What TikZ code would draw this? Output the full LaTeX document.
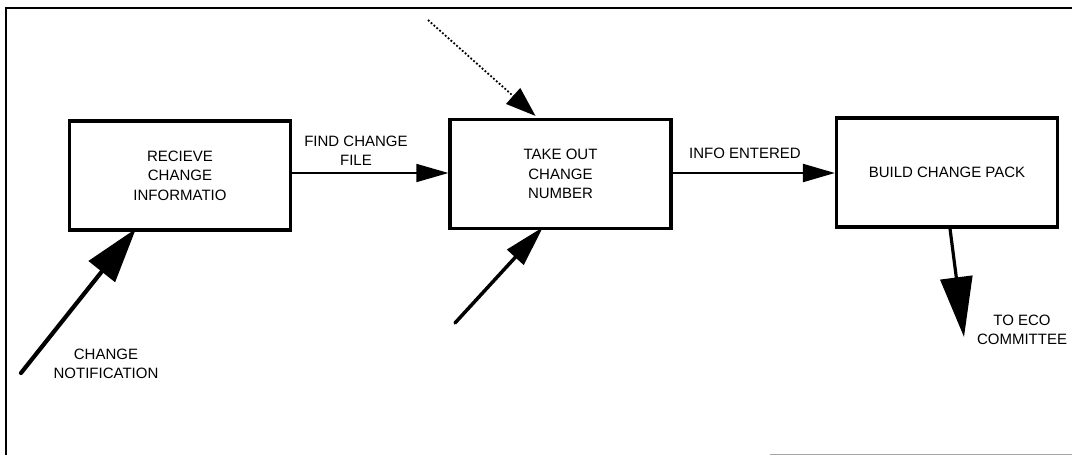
\documentclass[tikz,border=0pt]{standalone}
\usepackage{fontspec}
\setmainfont{Liberation Sans}
\usetikzlibrary{arrows.meta,calc}
\begin{document}
\begin{tikzpicture}[x=1pt,y=-1pt,
  every node/.style={font=\fontsize{15}{19.5}\selectfont, inner sep=0pt, align=center},
  procbox/.style={draw, line width=3.2pt, minimum width=221pt, minimum height=109pt},
  flow/.style={-{Triangle[length=32pt,width=18pt]}},
  bigin/.style={line width=4.2pt, line cap=round, -{Triangle[length=55pt,width=33pt]}},
  midin/.style={line width=3.5pt, line cap=round, -{Triangle[length=41pt,width=22pt]}},
  dotin/.style={line width=1.8pt, dotted, -{Triangle[length=30pt,width=21pt]}}]
\useasboundingbox (0,0) rectangle (1072,456);
% frame
\draw[line width=1.5pt] (6,455) -- (6,8) -- (1072,8);
\draw[line width=1pt, black!35] (770,454) -- (1072,454);
% boxes
\node[procbox] (b1) at (180,175.5) {RECIEVE\\CHANGE\\INFORMATIO};
\node[procbox] (b2) at (560.5,174) {TAKE OUT\\CHANGE\\NUMBER};
\node[procbox] (b3) at (947,172.5) {BUILD CHANGE PACK};
% labels
\node (lfind) at (356,151) {FIND CHANGE\\FILE};
\node (linfo) at (745,153) {INFO ENTERED};
\node (lnote) at (106,364) {CHANGE\\NOTIFICATION};
\node (leco) at (1022,330) {TO ECO\\COMMITTEE};
% free ends
\coordinate (s1) at (21,373);
\coordinate (s2) at (455,323);
\coordinate (s3) at (428,20);
\coordinate (e5) at (964,337);
% connectors
\draw[flow, line width=1.6pt] (b1.east |- 0,173) -- (b2.west |- 0,173);
\draw[flow, line width=2.2pt] (b2.east |- 0,173) -- (b3.west |- 0,173);
\draw[bigin] (s1) -- ([xshift=-44pt,yshift=3pt]b1.south);
\draw[midin] (s2) -- ([xshift=-17.5pt,yshift=3pt]b2.south);
\draw[dotin] (s3) -- ([xshift=-25pt,yshift=2pt]b2.north);
\draw[line width=3.2pt, line cap=round, -{Triangle[length=60pt,width=32pt]}] ([xshift=3pt]b3.south) -- (e5);
\end{tikzpicture}
\end{document}
